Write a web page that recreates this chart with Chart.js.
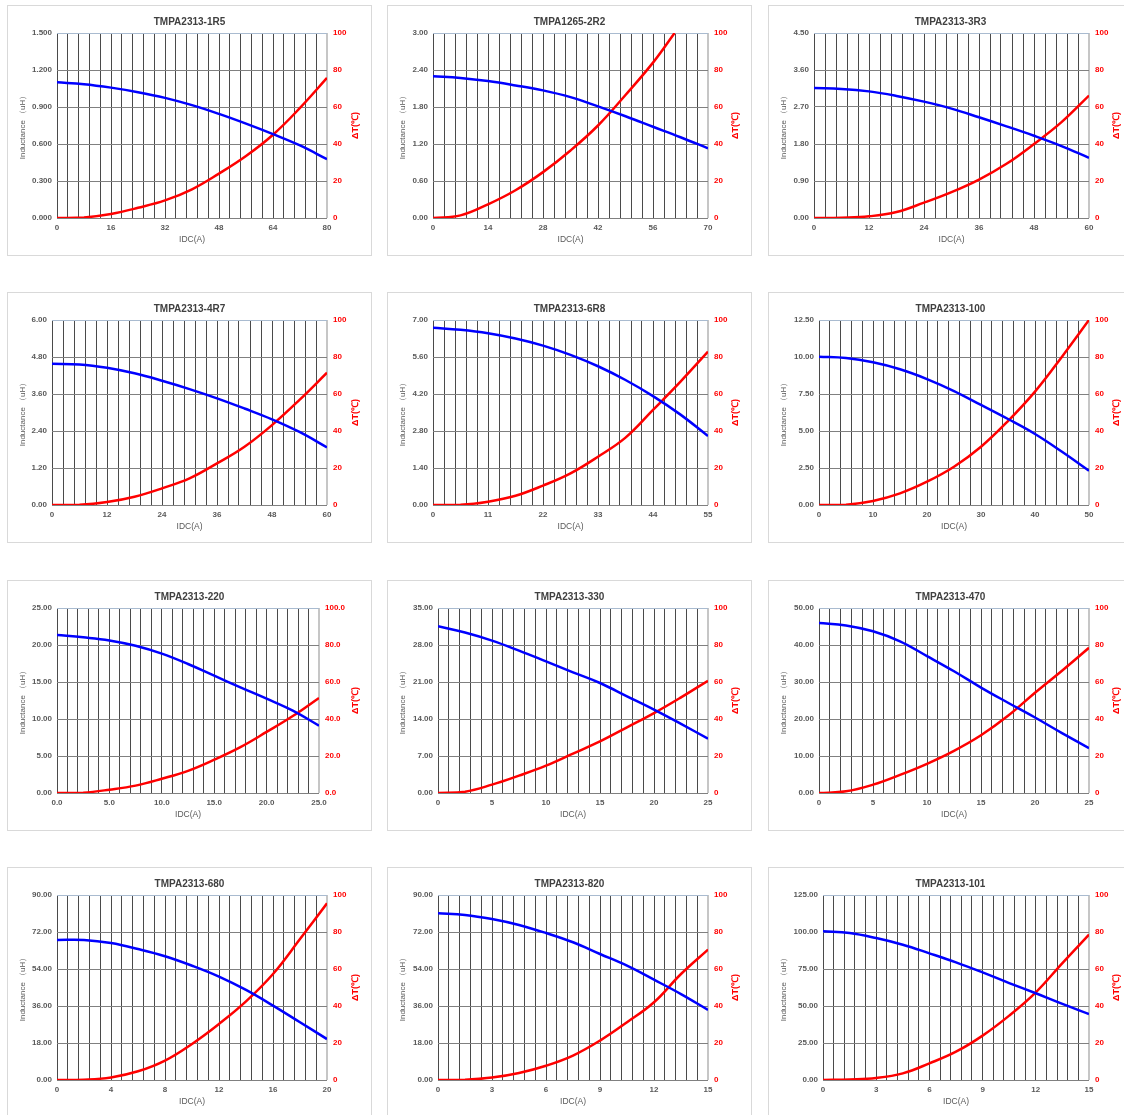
<!DOCTYPE html>
<html><head><meta charset="utf-8">
<script src="https://cdn.jsdelivr.net/npm/chart.js@4.4.1/dist/chart.umd.min.js"></script>
<style>
html,body{margin:0;padding:0;background:#fff;overflow:hidden;width:1124px;height:1115px;position:relative;}
canvas{position:absolute;}
</style></head><body>
<script>
// ---------- chart texts ----------
const titles = ["TMPA2313-1R5","TMPA1265-2R2","TMPA2313-3R3","TMPA2313-4R7","TMPA2313-6R8","TMPA2313-100",
                "TMPA2313-220","TMPA2313-330","TMPA2313-470","TMPA2313-680","TMPA2313-820","TMPA2313-101"];
const xAxisTitle = "IDC(A)";
const leftAxisTitle = "Inductance （uH）";
const rightAxisTitle = "ΔT(℃)";

// ---------- axis ranges & tick labels ----------
const idcMax = [80,70,60,60,55,50,25,25,25,20,15,15];
const inductanceMax = [1.5,3,4.5,6,7,12.5,25,35,50,90,90,125];
const tempMax = [100,100,100,100,100,100,100,100,100,100,100,100];
const xTickLabels = [
  ["0","16","32","48","64","80"],["0","14","28","42","56","70"],["0","12","24","36","48","60"],
  ["0","12","24","36","48","60"],["0","11","22","33","44","55"],["0","10","20","30","40","50"],
  ["0.0","5.0","10.0","15.0","20.0","25.0"],["0","5","10","15","20","25"],["0","5","10","15","20","25"],
  ["0","4","8","12","16","20"],["0","3","6","9","12","15"],["0","3","6","9","12","15"]];
const lTickLabels = [
  ["0.000","0.300","0.600","0.900","1.200","1.500"],["0.00","0.60","1.20","1.80","2.40","3.00"],
  ["0.00","0.90","1.80","2.70","3.60","4.50"],["0.00","1.20","2.40","3.60","4.80","6.00"],
  ["0.00","1.40","2.80","4.20","5.60","7.00"],["0.00","2.50","5.00","7.50","10.00","12.50"],
  ["0.00","5.00","10.00","15.00","20.00","25.00"],["0.00","7.00","14.00","21.00","28.00","35.00"],
  ["0.00","10.00","20.00","30.00","40.00","50.00"],["0.00","18.00","36.00","54.00","72.00","90.00"],
  ["0.00","18.00","36.00","54.00","72.00","90.00"],["0.00","25.00","50.00","75.00","100.00","125.00"]];
const tTickLabels = [
  ["0","20","40","60","80","100"],["0","20","40","60","80","100"],["0","20","40","60","80","100"],
  ["0","20","40","60","80","100"],["0","20","40","60","80","100"],["0","20","40","60","80","100"],
  ["0.0","20.0","40.0","60.0","80.0","100.0"],["0","20","40","60","80","100"],["0","20","40","60","80","100"],
  ["0","20","40","60","80","100"],["0","20","40","60","80","100"],["0","20","40","60","80","100"]];

// ---------- series data (IDC in A, inductance in uH, ΔT in ℃) ----------
const idc1R5 = [0,8,16,24,32,40,48,56,64,72,80];
const ind1R5 = [1.100,1.085,1.057,1.020,0.974,0.915,0.844,0.765,0.680,0.588,0.477];
const dt1R5  = [0,0.3,2.2,5.5,9.5,15.5,24,33.5,45,59.5,75.7];

const idc2R2 = [0,7,14,21,28,35,42,49,56,63,70];
const ind2R2 = [2.30,2.27,2.22,2.15,2.07,1.96,1.81,1.65,1.48,1.31,1.13];
const idcT2R2 = [0,7,14,21,28,35,42,49,56,61.5];
const dt2R2  = [0,1.4,7.4,15,24.8,36.5,50,66.5,84,100];

const idc3R3 = [0,6,12,18,24,30,36,42,48,54,60];
const ind3R3 = [3.16,3.14,3.08,2.97,2.83,2.66,2.45,2.23,2.00,1.75,1.465];
const dt3R3  = [0,0.2,0.9,3.2,8.3,14,20.8,29.3,40,51.8,66.2];

const idc4R7 = [0,6,12,18,24,30,36,42,48,54,60];
const ind4R7 = [4.58,4.56,4.45,4.27,4.03,3.76,3.46,3.13,2.78,2.37,1.87];
const dt4R7  = [0,0.1,1.6,4.5,9,14.4,22.5,31.5,43.2,56.8,71.5];

const idc6R8 = [0,5.5,11,16.5,22,27.5,33,38.5,44,49.5,55];
const ind6R8 = [6.71,6.63,6.50,6.30,6.03,5.68,5.25,4.73,4.12,3.42,2.61];
const dt6R8  = [0,0.1,1.8,5,10.5,17.1,26.1,36.4,51.4,66.7,82.9];

const idc100 = [0,5,10,15,20,25,30,35,40,45,50];
const ind100 = [10.02,9.93,9.64,9.17,8.51,7.70,6.76,5.81,4.80,3.60,2.32];
const dt100  = [0,0.2,2.2,6.3,12.6,20.7,31.5,45.4,61.3,80.2,100];

const idc220 = [0,2.5,5,7.5,10,12.5,15,17.5,20,22.5,25];
const ind220 = [21.35,21.04,20.62,19.90,18.83,17.43,15.85,14.28,12.75,11.13,9.10];
const dt220  = [0,0.2,1.8,4,7.7,12,18,24.8,33,41.6,51.4];

const idc330 = [0,2.5,5,7.5,10,12.5,15,17.5,20,22.5,25];
const ind330 = [31.53,30.35,28.82,26.93,24.9,22.83,20.81,18.29,15.77,13.07,10.28];
const dt330  = [0,0.7,4.5,9.4,14.8,21.3,27.9,35.5,43.2,51.7,60.7];

const idc470 = [0,2.5,5,7.5,10,12.5,15,17.5,20,22.5,25];
const ind470 = [45.96,45.3,43.7,41.0,37.0,32.9,28.5,24.4,20.4,16.2,12.1];
const dt470  = [0,0.9,4.5,9.8,15.8,22.8,31.2,41.7,54.2,66.1,78.5];

const idc680 = [0,2,4,6,8,10,12,14,16,18,20];
const ind680 = [68.1,68.1,66.6,63.7,60.2,55.6,50.3,43.8,36.2,28.1,19.9];
const dt680  = [0,0.2,1.4,4.7,10.5,19.5,30.3,42.5,57.3,76.2,95.5];

const idc820 = [0,1.5,3,4.5,6,7.5,9,10.5,12,13.5,15];
const ind820 = [81.1,80.3,78.3,75.4,71.5,67,61.3,55.6,48.8,41.8,34.1];
const dt820  = [0,0.1,1.3,3.8,7.7,13.2,21.3,31.2,42,57.3,70.5];

const idc101 = [0,1.5,3,4.5,6,7.5,9,10.5,12,13.5,15];
const ind101 = [100.5,99.3,95.9,91.4,85.6,79.5,72.7,65.5,58.6,51.4,44.6];
const dt101  = [0,0.3,1.1,3.6,9,15.3,24,34.8,47.4,63.2,78.6];

const idcL = [idc1R5,idc2R2,idc3R3,idc4R7,idc6R8,idc100,idc220,idc330,idc470,idc680,idc820,idc101];
const indL = [ind1R5,ind2R2,ind3R3,ind4R7,ind6R8,ind100,ind220,ind330,ind470,ind680,ind820,ind101];
const idcT = [idc1R5,idcT2R2,idc3R3,idc4R7,idc6R8,idc100,idc220,idc330,idc470,idc680,idc820,idc101];
const dtT  = [dt1R5,dt2R2,dt3R3,dt4R7,dt6R8,dt100,dt220,dt330,dt470,dt680,dt820,dt101];

// ---------- layout (px) ----------
const colLeft = [7,387,768];
const rowTop = [5,292,580,867];
const panelW = 365, panelH = 251;
const leftAxisW  = [50,46,46,45,46,51,50,51,51,50,51,55];
const rightAxisW = [45,44,44,45,44,44,53,44,44,45,44,44];

const FONT = "'Liberation Sans', Arial, sans-serif";
const GREY = '#595959';
const RED = '#ff0000';
const BLUE = '#0000ff';

const panelPlugin = {
  id: 'panel',
  beforeDraw(chart) {
    const c = chart.ctx;
    c.save();
    c.fillStyle = '#fff';
    c.fillRect(0, 0, chart.width, chart.height);
    c.strokeStyle = '#d9d9d9';
    c.lineWidth = 1;
    c.strokeRect(0.5, 0.5, chart.width - 1, chart.height - 1);
    c.restore();
  }
};

const rightTitlePlugin = {
  id: 'rightTitle',
  afterDraw(chart) {
    const c = chart.ctx;
    const a = chart.chartArea;
    c.save();
    c.translate(chart.width - 16, (a.top + a.bottom) / 2);
    c.rotate(-Math.PI / 2);
    c.font = "bold 9px " + FONT;
    c.fillStyle = RED;
    c.textAlign = 'center';
    c.textBaseline = 'middle';
    c.fillText(rightAxisTitle, 0, 0);
    c.restore();
  }
};

function makeChart(i) {
  const cv = document.createElement('canvas');
  cv.width = panelW; cv.height = panelH;
  cv.style.left = colLeft[i % 3] + 'px';
  cv.style.top = rowTop[Math.floor(i / 3)] + 'px';
  cv.style.width = panelW + 'px'; cv.style.height = panelH + 'px';
  document.body.appendChild(cv);

  const xm = idcMax[i], lm = inductanceMax[i], tm = tempMax[i];
  const tickFont = {family: FONT, size: 8, weight: 'bold'};

  new Chart(cv, {
    type: 'line',
    data: {
      datasets: [
        {label: 'Inductance', data: idcL[i].map((x, k) => ({x, y: indL[i][k]})), yAxisID: 'yL',
         borderColor: BLUE, borderWidth: 2.5, pointRadius: 0, tension: 0.4, fill: false},
        {label: 'ΔT', data: idcT[i].map((x, k) => ({x, y: dtT[i][k]})), yAxisID: 'yT',
         borderColor: RED, borderWidth: 2.5, pointRadius: 0, tension: 0.4, fill: false}
      ]
    },
    options: {
      responsive: false, animation: false, devicePixelRatio: 1,
      layout: {padding: 0},
      plugins: {
        legend: {display: false}, tooltip: {enabled: false},
        title: {display: true, text: titles[i], color: '#404040',
                font: {family: FONT, size: 10, weight: 'bold'}, padding: {top: 11, bottom: 5}}
      },
      scales: {
        x: {
          type: 'linear', min: 0, max: xm,
          afterBuildTicks: s => { s.ticks = Array.from({length: 26}, (_, k) => ({value: k * xm / 25})); },
          afterFit: s => { s.height = panelH - 213; },
          ticks: {autoSkip: false, maxRotation: 0, padding: 5, color: GREY, font: tickFont,
                  callback: (v, k) => (k % 5 === 0 ? xTickLabels[i][k / 5] : '')},
          grid: {drawTicks: false,
                 color: c => (c.index === 25 ? '#c6c6c6' : '#4a4a4a'),
                 lineWidth: c => (c.index === 25 ? 2 : 1)},
          border: {display: false},
          title: {display: true, text: xAxisTitle, color: GREY, font: {family: FONT, size: 8.5},
                  padding: {top: 0, bottom: 11}}
        },
        yL: {
          type: 'linear', position: 'left', min: 0, max: lm,
          afterBuildTicks: s => { s.ticks = Array.from({length: 6}, (_, k) => ({value: k * lm / 5})); },
          afterFit: s => { s.width = leftAxisW[i]; },
          ticks: {autoSkip: false, padding: 5, color: GREY, font: tickFont,
                  callback: (v, k) => lTickLabels[i][k]},
          grid: {drawTicks: false,
                 color: c => (c.index === 5 ? '#a9bbd0' : '#808080'), lineWidth: 1},
          border: {display: false},
          title: {display: true, text: leftAxisTitle, color: GREY, font: {family: FONT, size: 8},
                  padding: {top: 11, bottom: 0}}
        },
        yT: {
          type: 'linear', position: 'right', min: 0, max: tm,
          afterBuildTicks: s => { s.ticks = Array.from({length: 6}, (_, k) => ({value: k * tm / 5})); },
          afterFit: s => { s.width = rightAxisW[i]; },
          ticks: {autoSkip: false, padding: 6, color: RED, font: tickFont,
                  callback: (v, k) => tTickLabels[i][k]},
          grid: {display: false, drawTicks: false},
          border: {display: false},
          title: {display: false}
        }
      }
    },
    plugins: [panelPlugin, rightTitlePlugin]
  });
}

for (let i = 0; i < 12; i++) makeChart(i);
</script>
</body></html>
